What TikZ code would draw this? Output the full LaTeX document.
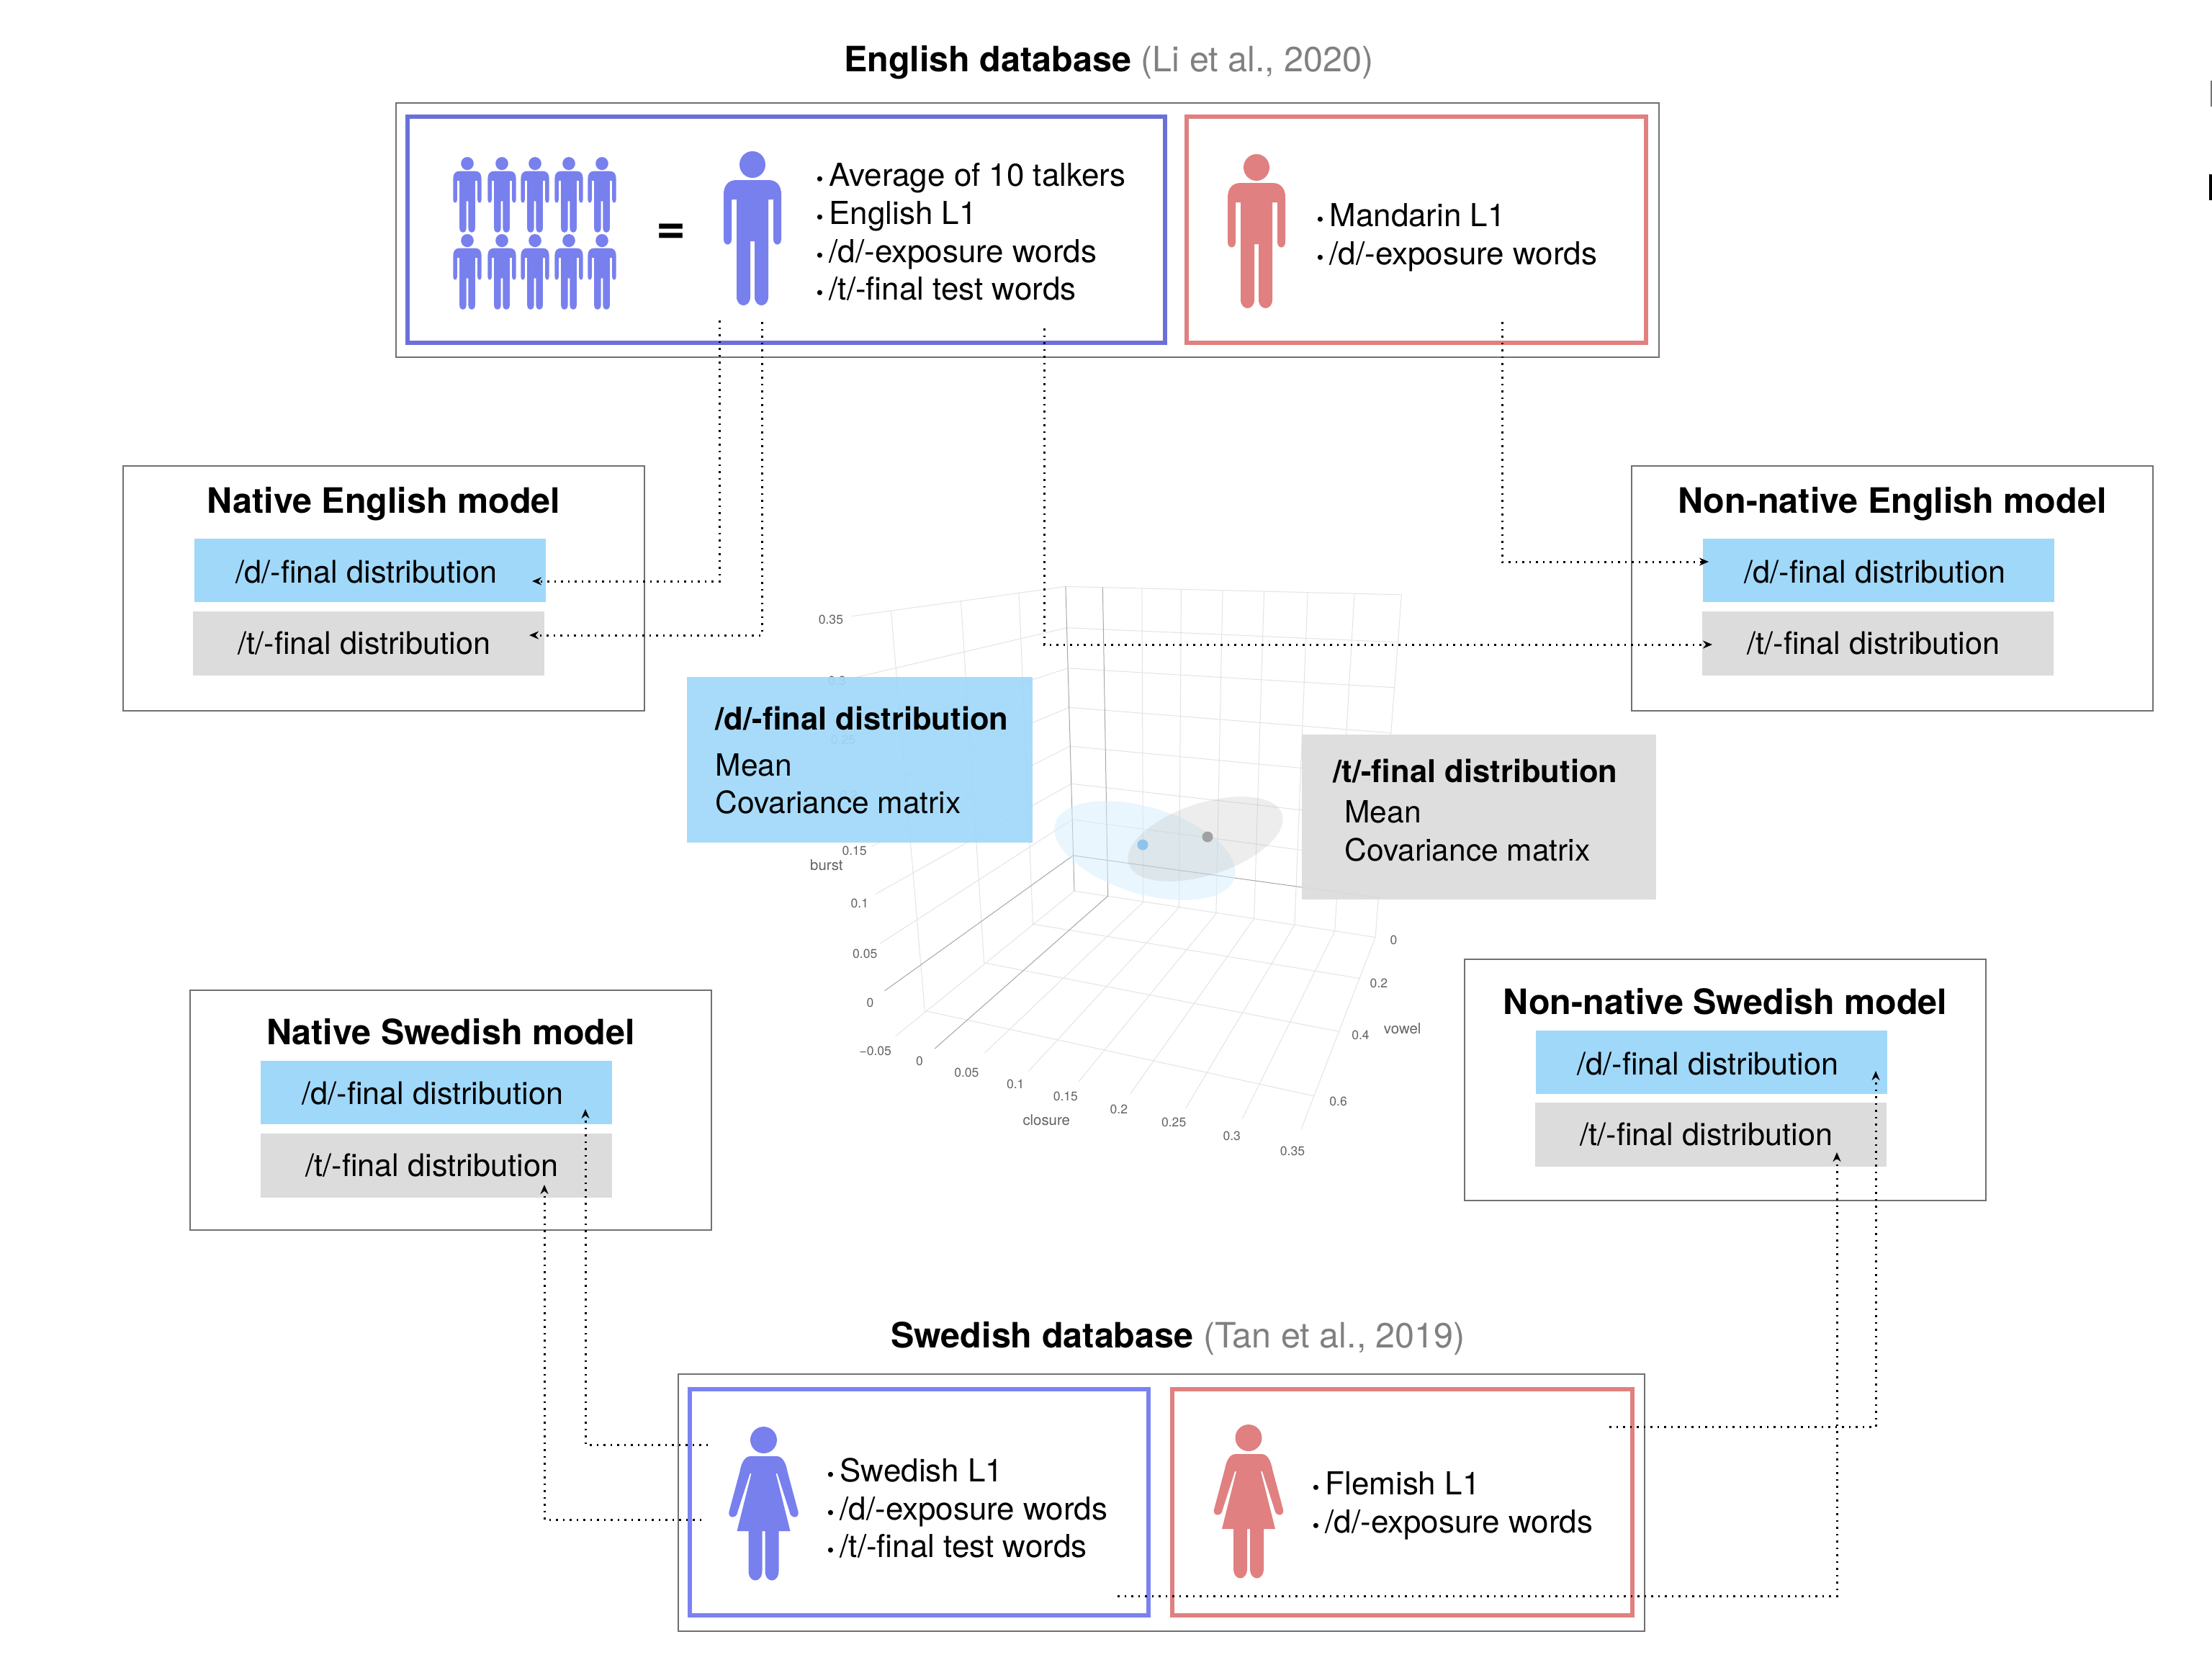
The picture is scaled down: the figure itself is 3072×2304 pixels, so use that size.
\documentclass[tikz,border=0pt]{standalone}
\usepackage{fontspec}
\setmainfont{TeX Gyre Heros}
\usetikzlibrary{arrows.meta}
\definecolor{enguser}{HTML}{6B70D8}
\definecolor{sweuser}{HTML}{7B82F0}
\definecolor{manblue}{HTML}{7880EE}
\definecolor{nonnative}{HTML}{E08080}
\definecolor{dfinal}{HTML}{A0D8F9}
\definecolor{tfinal}{HTML}{DCDCDC}
\definecolor{dbsource}{HTML}{808080}
\definecolor{framegray}{HTML}{707070}
\definecolor{dmean}{HTML}{8CC4EE}
\newcommand{\itm}{{\footnotesize\textbullet}\hspace{2.3pt}}
\tikzset{
  outerbox/.style={draw=framegray, line width=0.2mm, inner sep=0pt, outer sep=0pt, minimum height=35.3mm},
  talkerbox/.style={line width=0.6mm, inner sep=0pt, outer sep=0pt, minimum height=31.4mm},
  modelbox/.style={draw=framegray, line width=0.2mm, inner sep=0pt, outer sep=0pt, minimum width=72.4mm},
  modeltitle/.style={font=\fontsize{13.8}{16}\selectfont\bfseries, inner sep=0pt},
  dbtitle/.style={font=\fontsize{13.8}{16}\selectfont, inner sep=0pt},
  dbox/.style={fill=dfinal, inner sep=0pt, outer sep=0pt, minimum width=48.8mm, minimum height=8.8mm, text height=3.9mm, text depth=0.5mm, font=\fontsize{12.3}{15}\selectfont, execute at end node=\hspace{1mm}},
  tbox/.style={fill=tfinal, inner sep=0pt, outer sep=0pt, minimum width=48.8mm, minimum height=8.9mm, font=\fontsize{12.3}{15}\selectfont, execute at end node=\hspace{1.2mm}},
  summarybox/.style={fill opacity=0.93, text opacity=1, inner sep=0pt, outer sep=0pt},
  summarytext/.style={anchor=west, align=left, inner sep=0pt, font=\fontsize{12.1}{15}\selectfont},
  talkerlist/.style={anchor=west, align=left, inner sep=0pt, font=\fontsize{12.5}{15}\selectfont},
  gridline/.style={draw=black!11, line width=0.1mm},
  axisline/.style={draw=black!35, line width=0.1mm},
  ticklabel/.style={text=black!62, inner sep=0pt, font=\fontsize{5}{6}\selectfont},
  axislabel/.style={text=black!62, inner sep=0pt, font=\fontsize{5.8}{6}\selectfont},
  feed/.style={line width=0.3mm, dash pattern=on 0.25mm off 0.7mm, -{Stealth[length=1.3mm,width=1.1mm]}},
  man/.pic={
    \fill[pic actions] (0,18.5) ellipse [x radius=18, y radius=18.5];
    \fill[pic actions] (-22,40) -- (22,40) .. controls (34,40) and (40,48) .. (40,60) -- (40,122)
      .. controls (40,132) and (29,132) .. (29,122) -- (29,67) -- (22,67) -- (22,202)
      .. controls (22,218) and (3,218) .. (3,202) -- (3,125) -- (-3,125) -- (-3,202)
      .. controls (-3,218) and (-22,218) .. (-22,202) -- (-22,67) -- (-29,67) -- (-29,122)
      .. controls (-29,132) and (-40,132) .. (-40,122) -- (-40,60)
      .. controls (-40,48) and (-34,40) .. (-22,40) -- cycle;
  },
  woman/.pic={
    \fill[pic actions] (0,18.5) ellipse [x radius=18.5, y radius=18.5];
    \fill[pic actions] (-18,41) -- (18,41) .. controls (26,41) and (31,50) .. (33,62) -- (48,118)
      .. controls (50,128) and (37,128) .. (36,118) -- (19,65) -- (17,65) -- (37,145) -- (21,145)
      -- (21,200) .. controls (21,218) and (2,218) .. (2,200) -- (2,145) -- (-2,145) -- (-2,200)
      .. controls (-2,218) and (-21,218) .. (-21,200) -- (-21,145) -- (-37,145) -- (-17,65)
      -- (-19,65) -- (-36,118) .. controls (-37,128) and (-50,128) .. (-48,118) -- (-33,62)
      .. controls (-31,50) and (-26,41) .. (-18,41) -- cycle;
  }
}
\begin{document}
\begin{tikzpicture}[x=0.1mm, y=-0.1mm]
  \useasboundingbox (0,0) rectangle (3072,2304);

  \begin{scope}[shift={(1080,780)}, x=0.0606mm, y=-0.0573mm]
    \foreach \xa/\ya/\xb/\yb in {170/132/660/60, 180/280/663/160, 190/420/665/258, 200/560/668/353,
      215/690/670/447, 225/805/673/538, 235/925/675/625, 270/1150/680/798,
      260/120/337/1088, 420/95/473/972, 553/75/585/878,
      660/60/1430/80, 663/160/1420/195, 665/258/1413/305, 668/353/1405/415, 670/447/1400/520,
      673/538/1393/625, 675/625/1387/725, 680/798/1370/910, 1430/80/1370/910,
      835/65/838/825, 925/68/920/838, 1020/70/1005/853, 1115/72/1092/865, 1215/75/1185/880, 1322/78/1277/895,
      337/1088/1230/1295, 473/972/1285/1138, 585/878/1335/1010,
      838/825/475/1190, 920/838/575/1235, 1005/853/690/1260, 1092/865/808/1290, 1185/880/935/1325,
      1277/895/1065/1350, 1370/910/1200/1375}
      \draw[gridline] (\xa,\ya) -- (\xb,\yb);
    \foreach \xa/\ya/\xb/\yb in {660/60/680/798, 745/62/757/810, 757/810/360/1180, 677/712/245/1040, 677/712/1380/815}
      \draw[axisline] (\xa,\ya) -- (\xb,\yb);
    \foreach \tx/\ty/\tl [count=\ti] in {122/140/0.35, 136/288/0.3, 150/431/0.25, 163/567/0.2, 176/700/0.15,
      188/828/0.1, 200/950/0.05, 212/1069/0, 224/1185/−0.05,
      325/1210/0, 433/1238/0.05, 545/1266/0.1, 660/1296/0.15, 782/1327/0.2, 908/1358/0.25, 1041/1392/0.3,
      1180/1428/0.35,
      1412/917/0, 1378/1021/0.2, 1336/1148/0.4, 1285/1308/0.6}
      \node[ticklabel] (tick\ti) at (\tx,\ty) {\tl};
    \node[axislabel] (burstlabel) at (112,735) {burst};
    \node[axislabel] (closurelabel) at (616,1353) {closure};
    \node[axislabel] (vowellabel) at (1432,1132) {vowel};
  \end{scope}

  \fill[fill=dfinal!45, fill opacity=0.5] (1590,1181) ellipse [x radius=130, y radius=60, rotate=-17];
  \fill[fill=black!30, fill opacity=0.24] (1674,1165) ellipse [x radius=112, y radius=50, rotate=18];
  \fill[fill=dmean] (1587,1173) circle [radius=7.5];
  \fill[fill=black!37] (1677,1162) circle [radius=7.5];

  \node[summarybox, fill=dfinal, minimum width=48mm, minimum height=23mm] (dsummary) at (1194,1055) {};
  \node[summarytext] (dsummarytext) at (993,1056) {\textbf{\fontsize{12.4}{15}\selectfont /d/-final distribution}\\[3pt]Mean\\Covariance matrix};
  \node[summarybox, fill=tfinal, minimum width=49.2mm, minimum height=22.9mm] (tsummary) at (2054,1134) {};
  \node[summarytext] (tsummarytext) at (1851,1125) {\textbf{\fontsize{12.4}{15}\selectfont /t/-final distribution}\\[1pt]\hspace*{4.5pt}Mean\\\hspace*{4.5pt}Covariance matrix};

  \node[dbtitle] (engtitle) at (1540,87) {\textbf{English database} \textcolor{dbsource}{(Li et al., 2020)}};
  \node[outerbox, minimum width=175.4mm] (engdb) at (1427,319.5) {};
  \node[talkerbox, draw=enguser, minimum width=105.2mm] (engtalker) at (1092,319) {};
  \node[talkerbox, draw=nonnative, minimum width=63.8mm] (mantalker) at (1967,319) {};
  \foreach \manx in {649,697,743,790,836}
    \foreach \many in {218,325}
      \pic[scale=0.49, fill=manblue] at (\manx,\many) {man};
  \node[inner sep=0pt, font=\fontsize{20}{20}\selectfont\bfseries] (avgeq) at (932,325) {=};
  \pic[fill=manblue] at (1045,210) {man};
  \pic[fill=nonnative] at (1745,214) {man};
  \node[talkerlist] (engtext) at (1133,322) {\itm Average of 10 talkers\\\itm English L1\\\itm /d/-exposure words\\\itm /t/-final test words};
  \node[talkerlist] (mantext) at (1828,330) {\itm Mandarin L1\\\itm /d/-exposure words};

  \node[modelbox, minimum height=34mm] (natenglish) at (533,817) {};
  \node[modeltitle] (natenglishtitle) at (533,700) {Native English model};
  \node[dbox] (natengd) at (514,792) {/d/-final distribution};
  \node[tbox] (natengt) at (512,893) {/t/-final distribution};

  \node[modelbox, minimum height=34mm] (nonenglish) at (2628,817) {};
  \node[modeltitle] (nonenglishtitle) at (2628,700) {Non-native English model};
  \node[dbox] (nonengd) at (2609,792) {/d/-final distribution};
  \node[tbox] (nonengt) at (2608,893) {/t/-final distribution};

  \node[modelbox, minimum height=33.3mm] (natswedish) at (626,1541.5) {};
  \node[modeltitle] (natswedishtitle) at (626,1433) {Native Swedish model};
  \node[dbox] (natswed) at (606,1516.5) {/d/-final distribution};
  \node[tbox] (natswet) at (606,1618) {/t/-final distribution};

  \node[modelbox, minimum height=33.5mm] (nonswedish) at (2396,1499.5) {};
  \node[modeltitle] (nonswedishtitle) at (2396,1391) {Non-native Swedish model};
  \node[dbox] (nonswed) at (2377,1475) {/d/-final distribution};
  \node[tbox] (nonswet) at (2376,1575) {/t/-final distribution};

  \node[dbtitle] (swetitle) at (1636,1859) {\textbf{Swedish database} \textcolor{dbsource}{(Tan et al., 2019)}};
  \node[outerbox, minimum width=134.2mm, minimum height=35.7mm] (swedb) at (1613,2086.5) {};
  \node[talkerbox, draw=sweuser, minimum width=63.7mm] (swetalker) at (1276.5,2085.5) {};
  \node[talkerbox, draw=nonnative, minimum width=63.9mm] (flemtalker) at (1947.5,2085.5) {};
  \pic[fill=manblue] at (1060.5,1981) {woman};
  \pic[fill=nonnative] at (1734,1978) {woman};
  \node[talkerlist] (swetext) at (1148,2094) {\itm Swedish L1\\\itm /d/-exposure words\\\itm /t/-final test words};
  \node[talkerlist] (flemtext) at (1822,2091) {\itm Flemish L1\\\itm /d/-exposure words};

  \coordinate (engout) at (999,445);
  \coordinate (natdin) at (739,807);
  \draw[feed] (engout) |- (natdin);
  \coordinate (engtest) at (1058,447);
  \coordinate (nattin) at (735,882);
  \draw[feed] (engtest) |- (nattin);
  \coordinate (engword) at (1450,456);
  \coordinate (nontin) at (2378,895);
  \draw[feed] (engword) |- (nontin);
  \coordinate (manout) at (2086,447);
  \coordinate (nondin) at (2373,780);
  \draw[feed] (manout) |- (nondin);
  \coordinate (sweout) at (983,2006);
  \coordinate (swedin) at (813,1540);
  \draw[feed] (sweout) -| (swedin);
  \coordinate (swetest) at (974,2110);
  \coordinate (swetin) at (756,1645);
  \draw[feed] (swetest) -| (swetin);
  \coordinate (flemout) at (2235,1981);
  \coordinate (fledin) at (2605,1487);
  \draw[feed] (flemout) -| (fledin);
  \coordinate (flemword) at (1552,2216);
  \coordinate (fletin) at (2551,1600);
  \draw[feed] (flemword) -| (fletin);

  \fill[fill=black!55] (3070,112) rectangle (3072,148);
  \fill[fill=black] (3068,242) rectangle (3072,278);
\end{tikzpicture}
\end{document}
